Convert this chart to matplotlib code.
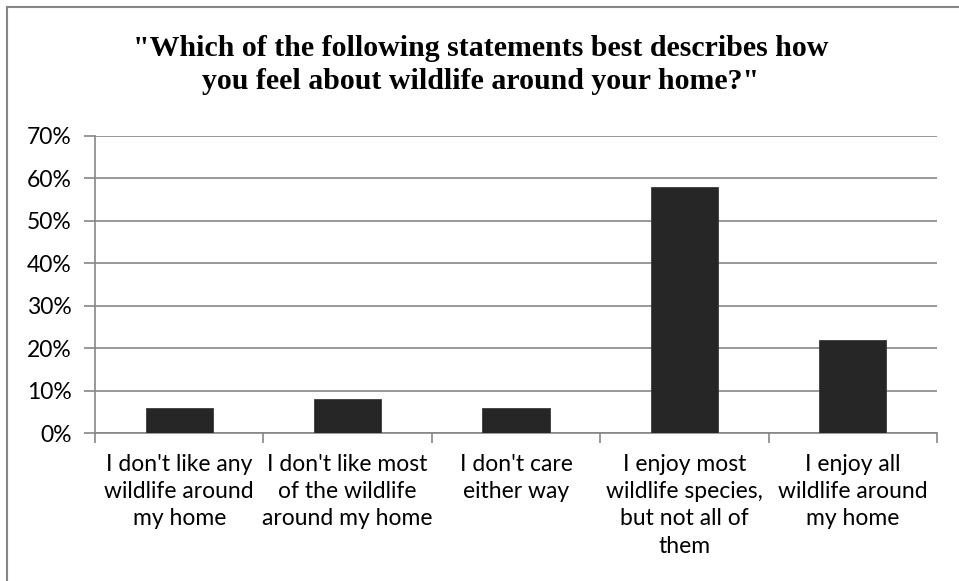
#!/usr/bin/env python3
"""Survey bar chart: feelings about wildlife around the home."""

import matplotlib

matplotlib.use("Agg")
import matplotlib.pyplot as plt
from matplotlib.lines import Line2D
from matplotlib.ticker import MultipleLocator, PercentFormatter


TITLE = ('"Which of the following statements best describes how\n'
         'you feel about wildlife around your home?"')
CATEGORIES = [
    "I don't like any\nwildlife around\nmy home",
    "I don't like most\nof the wildlife\naround my home",
    "I don't care\neither way",
    "I enjoy most\nwildlife species,\nbut not all of\nthem",
    "I enjoy all\nwildlife around\nmy home",
]
SHARES = [0.06, 0.08, 0.06, 0.58, 0.22]

GRID = "#868686"
BAR = "#262626"
LABEL_FONT = ["Lato", "DejaVu Sans"]


def main() -> None:
    fig = plt.figure(figsize=(9.59, 5.81), dpi=100)
    W, H = 959, 581
    ax = fig.add_axes([95 / W, 1 - 433 / H, (937 - 95) / W, (433 - 136) / H])

    x = range(len(CATEGORIES))
    ax.bar(x, SHARES, width=0.4, color=BAR, edgecolor="#3a3a3a", linewidth=0.6, zorder=3)

    ax.set_xlim(-0.5, len(CATEGORIES) - 0.5)
    ax.set_ylim(0, 0.70)
    ax.yaxis.set_major_locator(MultipleLocator(0.10))
    ax.yaxis.set_major_formatter(PercentFormatter(1.0, decimals=0))
    ax.grid(axis="y", color=GRID, linewidth=1.2, zorder=0)

    ax.set_xticks([i + 0.5 for i in range(-1, len(CATEGORIES))], minor=False)
    ax.set_xticklabels([])
    ax.set_xticks(list(x), minor=True)
    ax.set_xticklabels(CATEGORIES, minor=True, fontsize=16.5, family=LABEL_FONT,
                       linespacing=1.37, va="top")
    ax.tick_params(axis="x", which="major", length=7, width=1.2, color=GRID)
    ax.tick_params(axis="x", which="minor", length=0, pad=15)
    ax.tick_params(axis="y", length=8, width=1.2, color=GRID, labelsize=16.5, pad=9)
    for lab in ax.get_yticklabels():
        lab.set_family(LABEL_FONT)

    for side in ("top", "right"):
        ax.spines[side].set_visible(False)
    for side in ("left", "bottom"):
        ax.spines[side].set_color(GRID)
        ax.spines[side].set_linewidth(1.2)

    fig.text(481 / W, 1 - 65 / H, TITLE, ha="center", va="center", fontsize=21.5,
             fontweight="bold", family="Liberation Serif", linespacing=1.32)

    # chart frame: only the top and left edges fall inside the picture
    fig.add_artist(Line2D([6.5 / W, 6.5 / W], [0, 1 - 7 / H], transform=fig.transFigure,
                          color=GRID, linewidth=1.5))
    fig.add_artist(Line2D([6.5 / W, 1], [1 - 7 / H, 1 - 7 / H], transform=fig.transFigure,
                          color=GRID, linewidth=1.5))

    fig.savefig("out.png", dpi=100)
    plt.close(fig)


if __name__ == "__main__":
    main()
